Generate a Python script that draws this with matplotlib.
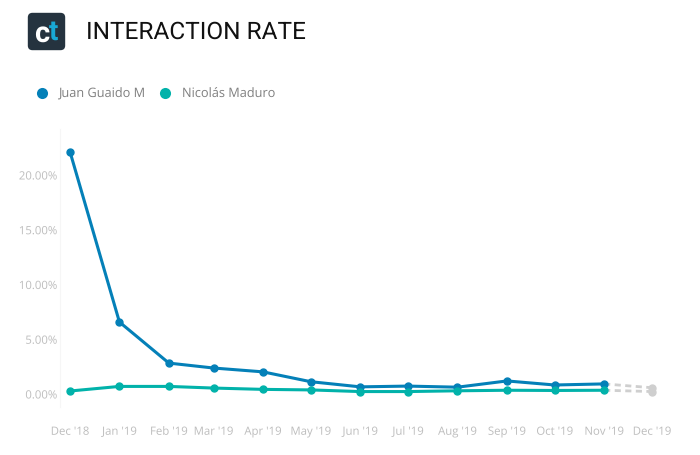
import matplotlib
matplotlib.use("Agg")

import matplotlib.patheffects as pe
import matplotlib.pyplot as plt
import pandas as pd
from matplotlib.patches import FancyBboxPatch

months = ["2018-12-01", "2019-01-01", "2019-02-01", "2019-03-01", "2019-04-01",
          "2019-05-01", "2019-06-01", "2019-07-01", "2019-08-01", "2019-09-01",
          "2019-10-01", "2019-11-01", "2019-12-01"]
month_labels = ["Dec '18", "Jan '19", "Feb '19", "Mar '19", "Apr '19", "May '19", "Jun '19",
                "Jul '19", "Aug '19", "Sep '19", "Oct '19", "Nov '19", "Dec '19"]
guaido = [22.15, 6.6, 2.85, 2.4, 2.05, 1.15, 0.68, 0.75, 0.65, 1.22, 0.85, 0.95, 0.6]
maduro = [0.3, 0.72, 0.72, 0.57, 0.45, 0.4, 0.25, 0.25, 0.32, 0.37, 0.35, 0.37, 0.25]
y_ticks = [0, 5, 10, 15, 20]

GUAIDO_COLOR = "#0480b8"
MADURO_COLOR = "#01b2aa"
FORECAST_COLOR = "#cfcfcf"
TICK_COLOR = "#bdbdbd"

W, H = 700, 456
dates = pd.to_datetime(months)

plt.rcParams["font.family"] = ["Open Sans", "DejaVu Sans"]
plt.rcParams["text.hinting"] = "none"
fig = plt.figure(figsize=(W / 100, H / 100), dpi=100, facecolor="white")


def fx(px):
    return px / W


def fy(px):
    return 1 - px / H


# plot area is placed so that 0% sits near y=395 px and Dec '18 at x=70 px
zero_y = 395.3
left, right, top, bottom = 60, 676, 130, 408
ax = fig.add_axes([fx(left), fy(bottom), (right - left) / W, (bottom - top) / H])
px_per_day = (652 - 70) / 365
px_per_pct = (394.5 - 175.5) / 20
ax.set_xlim(dates[0] - pd.Timedelta(days=(70 - left) / px_per_day),
            dates[0] + pd.Timedelta(days=(right - 70) / px_per_day))
ax.set_ylim(-(bottom - zero_y) / px_per_pct, (zero_y - top) / px_per_pct)

for color, values in [(GUAIDO_COLOR, guaido), (MADURO_COLOR, maduro)]:
    # last month is still incomplete, drawn as a grey dashed stub
    ax.plot(dates[-2:], values[-2:], color=FORECAST_COLOR, lw=2, ls=(0, (2.2, 1.6)),
            marker="o", ms=5, markevery=[1], zorder=2)
    ax.plot(dates[:-1], values[:-1], color=color, lw=2.2, marker="o", ms=5, zorder=3,
            solid_capstyle="round")

for side in ["top", "right", "bottom"]:
    ax.spines[side].set_visible(False)
ax.spines["left"].set_color("#f6f6f6")
ax.spines["left"].set_linewidth(0.8)

ax.set_xticks(dates)
ax.set_xticklabels(month_labels, va="baseline")
ax.set_yticks(y_ticks)
ax.set_yticklabels([f"{v:.2f}%" for v in y_ticks])
ax.tick_params(axis="both", length=0, labelcolor=TICK_COLOR, labelsize=8.2)
ax.tick_params(axis="x", pad=20)
ax.tick_params(axis="y", pad=2)

# drawing labels as paths keeps the month labels on one baseline
for label in ax.get_xticklabels() + ax.get_yticklabels():
    label.set_path_effects([pe.Normal()])

# logo
bg = fig.add_axes([0, 0, 1, 1], zorder=-1)
bg.set_xlim(0, W)
bg.set_ylim(H, 0)
bg.axis("off")
bg.add_patch(FancyBboxPatch((28.5, 14.5), 36, 36, boxstyle="round,pad=0,rounding_size=4",
                            fc="#25333f", ec="#25333f", lw=1))
bg.text(42, 33.5, "c", color="white", fontsize=21, fontweight="bold", family="Roboto",
        ha="center", va="center")
bg.text(53.5, 32, "t", color="#19a9d6", fontsize=20, fontweight="bold", family="Roboto",
        ha="center", va="center")

bg.text(85.5, 32, "INTERACTION RATE", color="#111111", fontsize=17.6, family="Roboto",
        ha="left", va="center")

# legend
for x, color, label, text_x in [(42, GUAIDO_COLOR, "Juan Guaido M", 58),
                                (165, MADURO_COLOR, "Nicolás Maduro", 182)]:
    bg.plot([x], [93.5], "o", color=color, ms=8, mew=0)
    bg.text(text_x, 94, label, color="#7f7f7f", fontsize=9.2, ha="left", va="center")

fig.savefig("out.png", dpi=100)
plt.close(fig)
